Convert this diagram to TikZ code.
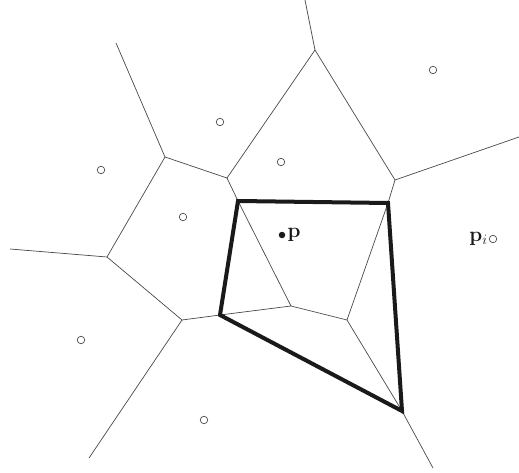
\documentclass[tikz,border=0pt]{standalone}
\usepackage{tikz}
\usetikzlibrary{positioning}
\definecolor{ink}{HTML}{1A1A1A}
\tikzset{
  cell/.style={line width=0.7pt, draw=ink!80},
  hull/.style={line width=4pt, draw=ink, line join=miter},
  site/.style={circle, draw=ink!80, line width=0.7pt, inner sep=0pt, minimum size=7.5pt},
  query/.style={circle, fill=ink, inner sep=0pt, minimum size=6.5pt},
  lbl/.style={font=\huge, text=ink, inner sep=1pt},
}
\begin{document}
\begin{tikzpicture}[x=1pt, y=-1pt]
  \useasboundingbox (0,0) rectangle (519,473);
  % voronoi vertices
  \coordinate (vA) at (165,157);
  \coordinate (vB) at (227,178);
  \coordinate (vC) at (315,50);
  \coordinate (vD) at (395,180);
  \coordinate (vE) at (107,257);
  \coordinate (vF) at (182,320);
  \coordinate (vH) at (291,306);
  \coordinate (vI) at (347,320);
  % corners of the new cell
  \coordinate (qTL) at (238,201);
  \coordinate (qTR) at (388,203);
  \coordinate (qBR) at (402,411);
  \coordinate (qBL) at (220,315);
  % free ends
  \coordinate (eA) at (116,43);
  \coordinate (eC) at (305,0);
  \coordinate (eD) at (519,137);
  \coordinate (eE) at (10,249);
  \coordinate (eF) at (89,458);
  \coordinate (eR) at (433,468);
  \foreach \a/\b in {eA/vA,vA/vB,vB/vC,eC/vC,vC/vD,vD/eD,vD/qTR,vB/qTL,vA/vE,eE/vE,vE/vF,vF/qBL,vF/eF,qTL/vH,qBL/vH,vH/vI,vI/qTR,vI/qBR,qBR/eR}{\draw[cell](\a)--(\b);}
  \draw[hull](qTL)--(qTR)--(qBR)--(qBL)--cycle;
  % sites
  \foreach \n/\p in {s1/{(101,170)},s2/{(220,122)},s3/{(183,217)},s4/{(281,162)},s5/{(433,70)},s6/{(81,340)},s7/{(204,420)},si/{(493,239)}}{\node[site](\n) at \p {};}
  \node[query](p) at (282,235) {};
  \node[lbl,right=1pt of p](plbl){$\mathbf{p}$};
  \node[lbl,left=0pt of si](pilbl){$\mathbf{p}_i$};
\end{tikzpicture}
\end{document}
